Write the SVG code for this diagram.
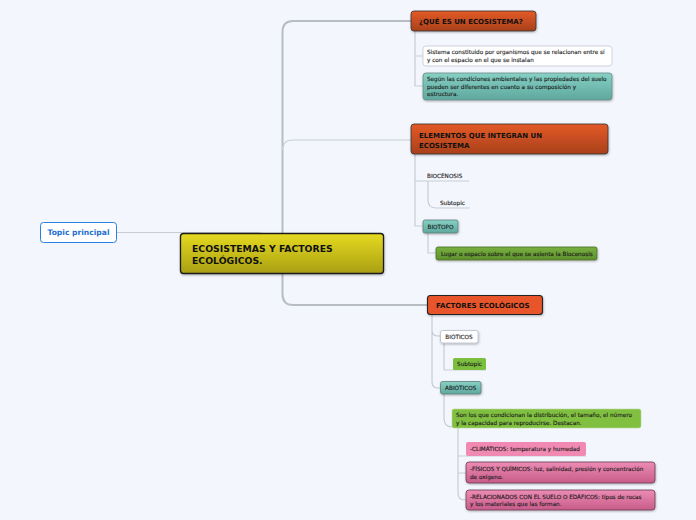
<svg xmlns="http://www.w3.org/2000/svg" width="696" height="520" viewBox="0 0 696 520">
<defs>
<linearGradient id="gY" x1="0" y1="0" x2="0" y2="1"><stop offset="0" stop-color="#e6da22"/><stop offset="1" stop-color="#a99f12"/></linearGradient>
<linearGradient id="gO" x1="0" y1="0" x2="0" y2="1"><stop offset="0" stop-color="#e45a26"/><stop offset="1" stop-color="#a8401c"/></linearGradient>
<linearGradient id="gT" x1="0" y1="0" x2="0" y2="1"><stop offset="0" stop-color="#86d0c4"/><stop offset="1" stop-color="#5fa89e"/></linearGradient>
<linearGradient id="gG" x1="0" y1="0" x2="0" y2="1"><stop offset="0" stop-color="#78b040"/><stop offset="1" stop-color="#5e902c"/></linearGradient>
<linearGradient id="gP" x1="0" y1="0" x2="0" y2="1"><stop offset="0" stop-color="#ec8cb4"/><stop offset="1" stop-color="#c85c8a"/></linearGradient>
<filter id="sh" x="-10%" y="-20%" width="120%" height="150%"><feDropShadow dx="0.5" dy="1" stdDeviation="0.8" flood-color="#000" flood-opacity="0.3"/></filter>
</defs>
<style>
text{font-family:"DejaVu Sans",Verdana,sans-serif;fill:#1a1a1a}
.b{font-weight:bold}
.t1{font-size:9.3px;font-weight:bold;fill:#111}
.t2{font-size:7px;font-weight:bold;fill:#111}
.t3{font-size:5.7px;stroke:#1a1a1a;stroke-width:0.12}
.c{fill:none;stroke:#c8ccd4;stroke-width:1.2}
.ct{fill:none;stroke:#b8bcc4;stroke-width:2}
</style>
<rect width="696" height="520" fill="#f3f6fd"/>
<g id="connectors">
<path class="c" d="M116 232.5 H258 Q268 232.5 268 242"/>
<path class="ct" d="M411 21 H293 Q282.5 21 282.5 32 V294 Q282.5 305 293 305 H427"/>
<path class="c" d="M411 140 H293 Q282.5 140 282.5 150"/>
<path class="c" d="M415 31 V86 H423 M415 56 H423"/>
<path class="c" d="M415 154 V226 H423 M415 181 H469"/>
<path class="c" d="M428 181 V200 Q428 208 436 208 H470"/>
<path class="c" d="M428 233 V253 H436"/>
<path class="c" d="M432 315 V330 Q432 336 438 336 H440 M432 330 V382 Q432 388 438 388 H440"/>
<path class="c" d="M444 343 V370 H486"/>
<path class="c" d="M444 394 V418 Q444 427 452 427"/>
<path class="c" d="M458 428 V493 Q458 500 465 500 H466 M458 456 H586 M458 473 H466"/>
</g>
<g id="topic-principal">
<rect x="40.5" y="222.5" width="76" height="20" rx="3" fill="#fff" stroke="#2a7fe0" stroke-width="1"/>
<text x="78.5" y="235" text-anchor="middle" class="b" style="font-size:7.6px;fill:#1f6fd0">Topic principal</text>
</g>
<g id="main">
<rect x="180.5" y="233.5" width="203" height="40" rx="3" fill="url(#gY)" stroke="#1a1a1a" stroke-width="1.3" filter="url(#sh)"/>
<text x="192" y="252" class="t1">ECOSISTEMAS Y FACTORES</text>
<text x="192" y="264" class="t1">ECOLÓGICOS.</text>
</g>
<g id="que-es">
<rect x="411" y="11" width="125" height="20" rx="3" fill="url(#gO)" stroke="#333" stroke-width="0.8" filter="url(#sh)"/>
<text x="419" y="23.8" class="t2">¿QUÉ ES UN ECOSISTEMA?</text>
</g>
<g id="sistema">
<rect x="423" y="46" width="189" height="20" rx="3" fill="#fff" stroke="#c4c8d0" stroke-width="0.8"/>
<text x="427" y="54" class="t3">Sistema constituido por organismos que se relacionan entre sí</text>
<text x="427" y="62" class="t3">y con el espacio en el que se instalan</text>
</g>
<g id="segun">
<rect x="423" y="73" width="189" height="27" rx="3" fill="url(#gT)" stroke="#6a8a88" stroke-width="0.8" filter="url(#sh)"/>
<text x="427" y="81" class="t3">Según las condiciones ambientales y las propiedades del suelo</text>
<text x="427" y="88.5" class="t3">pueden ser diferentes en cuanto a su composición y</text>
<text x="427" y="96" class="t3">estructura.</text>
</g>
<g id="elementos">
<rect x="411" y="124" width="197" height="30" rx="3" fill="url(#gO)" stroke="#333" stroke-width="0.8" filter="url(#sh)"/>
<text x="419" y="137.5" class="t2">ELEMENTOS QUE INTEGRAN UN</text>
<text x="419" y="147.5" class="t2">ECOSISTEMA</text>
</g>
<g id="biocenosis">
<text x="427" y="177.5" class="t3">BIOCENOSIS</text>
</g>
<g id="subtopic1">
<text x="440" y="204.5" class="t3">Subtopic</text>
</g>
<g id="biotopo">
<rect x="423" y="220" width="35" height="13" rx="2" fill="url(#gT)" stroke="#5d7f7c" stroke-width="0.8" filter="url(#sh)"/>
<text x="440.5" y="228.5" text-anchor="middle" class="t3">BIOTOPO</text>
</g>
<g id="lugar">
<rect x="436" y="247" width="161" height="13" rx="2" fill="url(#gG)" stroke="#4a6e28" stroke-width="0.8" filter="url(#sh)"/>
<text x="441" y="255.5" class="t3">Lugar o espacio sobre el que se asienta la Biocenosis</text>
</g>
<g id="factores">
<rect x="427.5" y="295.5" width="115" height="19" rx="3" fill="#e8542a" stroke="#222" stroke-width="1.1" filter="url(#sh)"/>
<text x="436" y="308" class="t2">FACTORES ECOLÓGICOS</text>
</g>
<g id="bioticos">
<rect x="440.5" y="330.5" width="37.5" height="12.5" rx="2" fill="#fff" stroke="#b8bcc6" stroke-width="0.8" filter="url(#sh)"/>
<text x="459" y="339" text-anchor="middle" class="t3">BIÓTICOS</text>
</g>
<g id="subtopic2">
<rect x="453" y="358" width="33" height="12" rx="1.5" fill="#7cbf3e"/>
<text x="469.5" y="366.3" text-anchor="middle" class="t3">Subtopic</text>
</g>
<g id="abioticos">
<rect x="440.5" y="381.5" width="40.5" height="12.5" rx="2" fill="url(#gT)" stroke="#5d7f7c" stroke-width="0.8" filter="url(#sh)"/>
<text x="460.7" y="390" text-anchor="middle" class="t3">ABIÓTICOS</text>
</g>
<g id="son-los">
<rect x="452" y="409" width="189" height="19" rx="2" fill="#80bf40" stroke="#b8d89a" stroke-width="0.6"/>
<text x="456" y="417" class="t3">Son los que condicionan la distribución, el tamaño, el número</text>
<text x="456" y="425" class="t3">y la capacidad para reproducirse. Destacan.</text>
</g>
<g id="climaticos">
<rect x="466" y="442" width="120" height="14" rx="2" fill="#f08ab2"/>
<text x="470" y="451.3" class="t3">-CLIMÁTICOS: temperatura y humedad</text>
</g>
<g id="fisicos">
<rect x="466" y="462" width="189" height="21" rx="3" fill="url(#gP)" stroke="#6a3a50" stroke-width="0.8" filter="url(#sh)"/>
<text x="470" y="471" class="t3">-FÍSICOS Y QUÍMICOS: luz, salinidad, presión y concentración</text>
<text x="470" y="478.5" class="t3">de oxígeno.</text>
</g>
<g id="relacionados">
<rect x="466" y="490" width="189" height="20" rx="3" fill="url(#gP)" stroke="#6a3a50" stroke-width="0.8" filter="url(#sh)"/>
<text x="470" y="498.5" class="t3">-RELACIONADOS CON EL SUELO O EDÁFICOS: tipos de rocas</text>
<text x="470" y="506" class="t3">y los materiales que las forman.</text>
</g>
</svg>
